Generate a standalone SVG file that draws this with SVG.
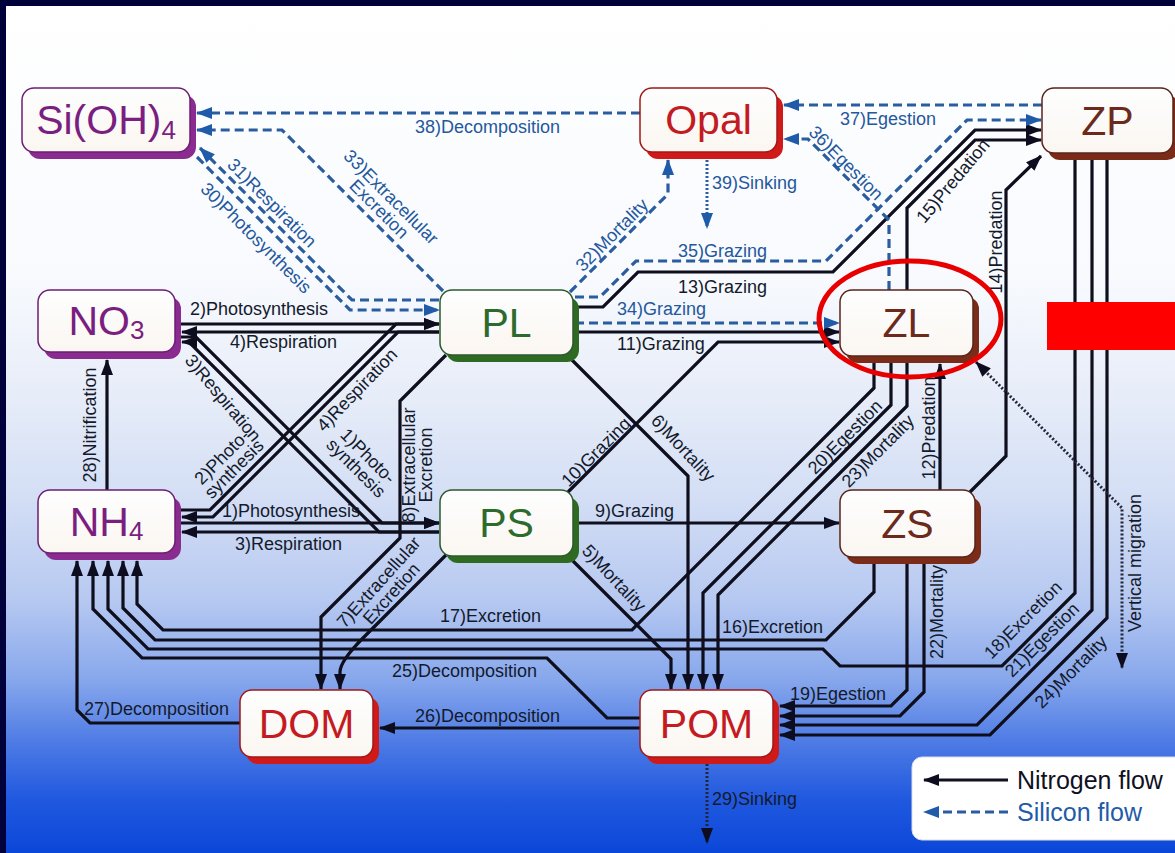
<svg xmlns="http://www.w3.org/2000/svg" width="1175" height="853" viewBox="0 0 1175 853">
<defs>
<linearGradient id="bg" x1="0" y1="0" x2="0" y2="1">
<stop offset="0" stop-color="#ffffff"/>
<stop offset="0.32" stop-color="#f8fafe"/>
<stop offset="0.465" stop-color="#e6ecf8"/>
<stop offset="0.583" stop-color="#d3def5"/>
<stop offset="0.70" stop-color="#b7c9f1"/>
<stop offset="0.796" stop-color="#87a7ec"/>
<stop offset="0.867" stop-color="#4f7ce5"/>
<stop offset="0.937" stop-color="#2058df"/>
<stop offset="1" stop-color="#0b47d8"/>
</linearGradient>
<linearGradient id="boxg" x1="0" y1="0" x2="0" y2="1">
<stop offset="0" stop-color="#fdfefe"/>
<stop offset="1" stop-color="#fbf6f1"/>
</linearGradient>
<marker id="ab" viewBox="0 0 16 12" refX="15" refY="6" markerWidth="16" markerHeight="12" markerUnits="userSpaceOnUse" orient="auto"><path d="M0,0 L16,6 L0,12 z" fill="#0d0d1f"/></marker>
<marker id="abs" viewBox="0 0 16 12" refX="15" refY="6" markerWidth="16" markerHeight="12" markerUnits="userSpaceOnUse" orient="auto-start-reverse"><path d="M0,0 L16,6 L0,12 z" fill="#0d0d1f"/></marker>
<marker id="au" viewBox="0 0 16 12" refX="15" refY="6" markerWidth="16" markerHeight="12" markerUnits="userSpaceOnUse" orient="auto"><path d="M0,0 L16,6 L0,12 z" fill="#1f5ba8"/></marker>
<style>
.n{fill:none;stroke:#0e0e1c;stroke-width:3.2;marker-end:url(#ab)}
.s{fill:none;stroke:#2a5d9f;stroke-width:3.2;stroke-dasharray:9 5;marker-end:url(#au)}
.d{fill:none;stroke:#22263a;stroke-width:3;stroke-dasharray:2 2;marker-end:url(#ab)}
.ds{fill:none;stroke:#2a5d9f;stroke-width:3;stroke-dasharray:2 2;marker-end:url(#au)}
.lb{font-family:"Liberation Sans",Arial,sans-serif;font-size:18px;fill:#141a2c}
.lbs{fill:#24589c}
.rc{text-anchor:middle}
.box{fill:url(#boxg);stroke-width:1.5}
.nt{font-family:"Liberation Sans",Arial,sans-serif;font-size:41px;text-anchor:middle}
.pu{fill:#7a1f80}.pus{stroke:#6d1d73}.pusd{fill:#8a2b90}
.re{fill:#c41a22}.res{stroke:#a01818}.resd{fill:#d01a1a}
.gr{fill:#2d6a2d}.grs{stroke:#2d5a2d}.grsd{fill:#2e6a22}
.br{fill:#6b2a1c}.brs{stroke:#5a2418}.brsd{fill:#7a2c18}
</style>
</defs>

<rect x="0" y="0" width="1175" height="853" fill="#00003a"/>
<rect x="6" y="6" width="1169" height="847" fill="url(#bg)"/>

<g id="connectors">
<path class="n" d="M177,324 H439"/>
<path class="n" d="M177,510 H210 L396,324 H439"/>
<path class="n" d="M439,332 H182"/>
<path class="n" d="M439,332 H398 L213,517 H182"/>
<path class="n" d="M177,523 H439"/>
<path class="n" d="M177,337 H196 L382,523 H439"/>
<path class="n" d="M439,532 H182"/>
<path class="n" d="M439,532 H379 L189,342 H182"/>
<path class="n" d="M107,490 V360"/>
<path class="n" d="M567,555 L671,659 V689"/>
<path class="n" d="M567,355 L688,476 V689"/>
<path class="n" d="M446,555 L364,637 Q340,661 340,672 V689"/>
<path class="n" d="M446,355 L400,401 V538 L321,617 V689"/>
<path class="n" d="M575,523 H839"/>
<path class="n" d="M568,492 L718,342 H839"/>
<path class="n" d="M575,332 H839"/>
<path class="n" d="M940,490 V364"/>
<path class="n" d="M575,307 H603 L638,272 H833 L975,130 H1041"/>
<path class="n" d="M970,492 L1006,456 V190 L1041,156"/>
<path class="n" d="M907,290 V208 L975,140 H1041"/>
<path class="n" d="M874,557 V592 L826,640 H155 L123,608 V561"/>
<path class="n" d="M874,357 V388 L632,630 H163 L137,604 V561"/>
<path class="n" d="M1075,160 V593 L1002,666 H840 L823,649 H148 L108,609 V561"/>
<path class="n" d="M907,557 V690 L891,706 H780"/>
<path class="n" d="M891,357 V405 L703,593 V689"/>
<path class="n" d="M1092,160 V610 L977,725 H780"/>
<path class="n" d="M924,557 V692 L900,716 H780"/>
<path class="n" d="M907,357 V406 L718,595 V689"/>
<path class="n" d="M1107,160 V618 L990,735 H780"/>
<path class="n" d="M640,718 H607 L547,658 H142 L93,609 V561"/>
<path class="n" d="M640,728 H380"/>
<path class="n" d="M240,723 H90 L77,710 V561"/>
<path class="d" d="M707,760 V843"/>
<path class="d" d="M976,362 L1122,508 V668" style="marker-start:url(#abs)"/>
<path class="s" d="M197,157 L350,310 H439"/>
<path class="s" d="M439,300 H352 L200,148"/>
<path class="s" d="M570,292 L668,194 V160"/>
<path class="s" d="M443,291 L282,130 H197"/>
<path class="s" d="M575,323 H839"/>
<path class="s" d="M575,297 H600 L636,261 H826 L967,120 H1041"/>
<path class="s" d="M889,290 V220 L808,139 H784"/>
<path class="s" d="M1042,105 H784"/>
<path class="s" d="M640,113 H197"/>
<path class="ds" d="M707,160 V228"/>
</g>

<g id="labels">
<text class="lb lbs" x="415" y="133">38)Decomposition</text>
<text class="lb lbs" x="840" y="125">37)Egestion</text>
<text class="lb lbs" x="712" y="189">39)Sinking</text>
<text class="lb lbs" x="678" y="257">35)Grazing</text>
<text class="lb" x="678" y="293">13)Grazing</text>
<text class="lb lbs" x="617" y="315">34)Grazing</text>
<text class="lb" x="617" y="350">11)Grazing</text>
<text class="lb" x="595" y="517">9)Grazing</text>
<text class="lb" x="190" y="315">2)Photosynthesis</text>
<text class="lb" x="230" y="348">4)Respiration</text>
<text class="lb" x="222" y="517">1)Photosynthesis</text>
<text class="lb" x="235" y="550">3)Respiration</text>
<text class="lb" x="440" y="622">17)Excretion</text>
<text class="lb" x="722" y="633">16)Excretion</text>
<text class="lb" x="392" y="677">25)Decomposition</text>
<text class="lb" x="415" y="722">26)Decomposition</text>
<text class="lb" x="84" y="715">27)Decomposition</text>
<text class="lb" x="790" y="700">19)Egestion</text>
<text class="lb" x="712" y="805">29)Sinking</text>

<text class="lb lbs rc" transform="translate(846,163) rotate(45)" y="6">36)Egestion</text>
<text class="lb lbs rc" transform="translate(612,235) rotate(-45)" y="6">32)Mortality</text>
<text class="lb rc" transform="translate(953,181) rotate(-50)" y="6">15)Predation</text>
<text class="lb rc" transform="translate(996,242) rotate(-90)" y="6">14)Predation</text>
<text class="lb lbs rc" transform="translate(272,203) rotate(45)" y="6">31)Respiration</text>
<text class="lb lbs rc" transform="translate(256,238) rotate(45)" y="6">30)Photosynthesis</text>
<text class="lb lbs rc" transform="translate(385,203) rotate(45)"><tspan x="0" y="-2.5">33)Extracellular</tspan><tspan x="0" y="14.5">Excretion</tspan></text>
<text class="lb rc" transform="translate(223,398) rotate(50)" y="6">3)Respiration</text>
<text class="lb rc" transform="translate(357,390) rotate(-46)" y="6">4)Respiration</text>
<text class="lb rc" transform="translate(228,463) rotate(-45)"><tspan x="0" y="-2.5">2)Photo-</tspan><tspan x="0" y="14.5">synthesis</tspan></text>
<text class="lb rc" transform="translate(362,462) rotate(45)"><tspan x="0" y="-2.5">1)Photo-</tspan><tspan x="0" y="14.5">synthesis</tspan></text>
<text class="lb rc" transform="translate(417,465) rotate(-90)"><tspan x="0" y="-2.5">8)Extracellular</tspan><tspan x="0" y="14.5">Excretion</tspan></text>
<text class="lb rc" transform="translate(385,588) rotate(-48)"><tspan x="0" y="-2.5">7)Extracellular</tspan><tspan x="0" y="14.5">Excretion</tspan></text>
<text class="lb rc" transform="translate(596,452) rotate(-45)" y="6">10)Grazing</text>
<text class="lb rc" transform="translate(683,448) rotate(47)" y="6">6)Mortality</text>
<text class="lb rc" transform="translate(614,578) rotate(47)" y="6">5)Mortality</text>
<text class="lb rc" transform="translate(845,437) rotate(-45)" y="6">20)Egestion</text>
<text class="lb rc" transform="translate(878,451) rotate(-45)" y="6">23)Mortality</text>
<text class="lb rc" transform="translate(929,428) rotate(-90)" y="6">12)Predation</text>
<text class="lb rc" transform="translate(1135,563) rotate(-90)" y="6">Vertical migration</text>
<text class="lb rc" transform="translate(937,612) rotate(-90)" y="6">22)Mortality</text>
<text class="lb rc" transform="translate(1023,620) rotate(-45)" y="6">18)Excretion</text>
<text class="lb rc" transform="translate(1042,640) rotate(-45)" y="6">21)Egestion</text>
<text class="lb rc" transform="translate(1071,672) rotate(-45)" y="6">24)Mortality</text>
<text class="lb rc" transform="translate(90,425) rotate(-90)" y="6">28)Nitrification</text>
</g>

<g id="node-SiOH4">
<rect class="pusd" x="28" y="95" width="168" height="64" rx="12"/>
<rect class="box pus" x="22" y="88" width="168" height="64" rx="12"/>
<text class="nt pu" x="106" y="134">Si(OH)<tspan font-size="26" dy="5">4</tspan></text>
</g>
<g id="node-Opal">
<rect class="resd" x="646" y="95" width="137" height="64" rx="12"/>
<rect class="box res" x="640" y="88" width="137" height="64" rx="12"/>
<text class="nt re" x="708.5" y="134">Opal</text>
</g>
<g id="node-ZP">
<rect class="brsd" x="1048" y="95" width="131" height="65" rx="12"/>
<rect class="box brs" x="1042" y="88" width="131" height="65" rx="12"/>
<text class="nt br" x="1107.5" y="135">ZP</text>
</g>
<g id="node-NO3">
<rect class="pusd" x="44" y="297" width="137" height="62" rx="12"/>
<rect class="box pus" x="38" y="290" width="137" height="62" rx="12"/>
<text class="nt pu" x="106.5" y="335">NO<tspan font-size="26" dy="4">3</tspan></text>
</g>
<g id="node-PL">
<rect class="grsd" x="446" y="297" width="133" height="65" rx="12"/>
<rect class="box grs" x="440" y="290" width="133" height="65" rx="12"/>
<text class="nt gr" x="506.5" y="337">PL</text>
</g>
<g id="node-ZL">
<rect class="brsd" x="846" y="297" width="133" height="66" rx="12"/>
<rect class="box brs" x="840" y="290" width="133" height="66" rx="12"/>
<text class="nt br" x="906.5" y="337">ZL</text>
</g>
<g id="node-NH4">
<rect class="pusd" x="44" y="497" width="137" height="63" rx="12"/>
<rect class="box pus" x="38" y="490" width="137" height="63" rx="12"/>
<text class="nt pu" x="106.5" y="536">NH<tspan font-size="26" dy="4">4</tspan></text>
</g>
<g id="node-PS">
<rect class="grsd" x="446" y="497" width="133" height="66" rx="12"/>
<rect class="box grs" x="440" y="490" width="133" height="66" rx="12"/>
<text class="nt gr" x="506.5" y="537">PS</text>
</g>
<g id="node-ZS">
<rect class="brsd" x="846" y="497" width="135" height="67" rx="12"/>
<rect class="box brs" x="840" y="490" width="135" height="67" rx="12"/>
<text class="nt br" x="907.5" y="538">ZS</text>
</g>
<g id="node-DOM">
<rect class="resd" x="246" y="697" width="133" height="67" rx="12"/>
<rect class="box res" x="240" y="690" width="133" height="67" rx="12"/>
<text class="nt re" x="306.5" y="738">DOM</text>
</g>
<g id="node-POM">
<rect class="resd" x="646" y="697" width="133" height="67" rx="12"/>
<rect class="box res" x="640" y="690" width="133" height="67" rx="12"/>
<text class="nt re" x="706.5" y="738">POM</text>
</g>

<g id="legend">
<rect x="912" y="757" width="275" height="83" rx="10" fill="#ffffff" stroke="#d8dde8" stroke-width="1"/>
<path d="M1008,780 H924" fill="none" stroke="#10101f" stroke-width="3" marker-end="url(#ab)"/>
<path d="M1008,812 H924" fill="none" stroke="#2a5d9f" stroke-width="3" stroke-dasharray="9 5" marker-end="url(#au)"/>
<text x="1017" y="789" font-family="Liberation Sans, Arial, sans-serif" font-size="25" fill="#10101f">Nitrogen flow</text>
<text x="1017" y="821" font-family="Liberation Sans, Arial, sans-serif" font-size="25" fill="#1f5ba8">Silicon flow</text>
</g>

<g id="annotations">
<ellipse cx="910" cy="319" rx="91" ry="58" fill="none" stroke="#e80000" stroke-width="5"/>
<rect x="1047" y="302" width="128" height="48" fill="#ff0000"/>
</g>
</svg>
